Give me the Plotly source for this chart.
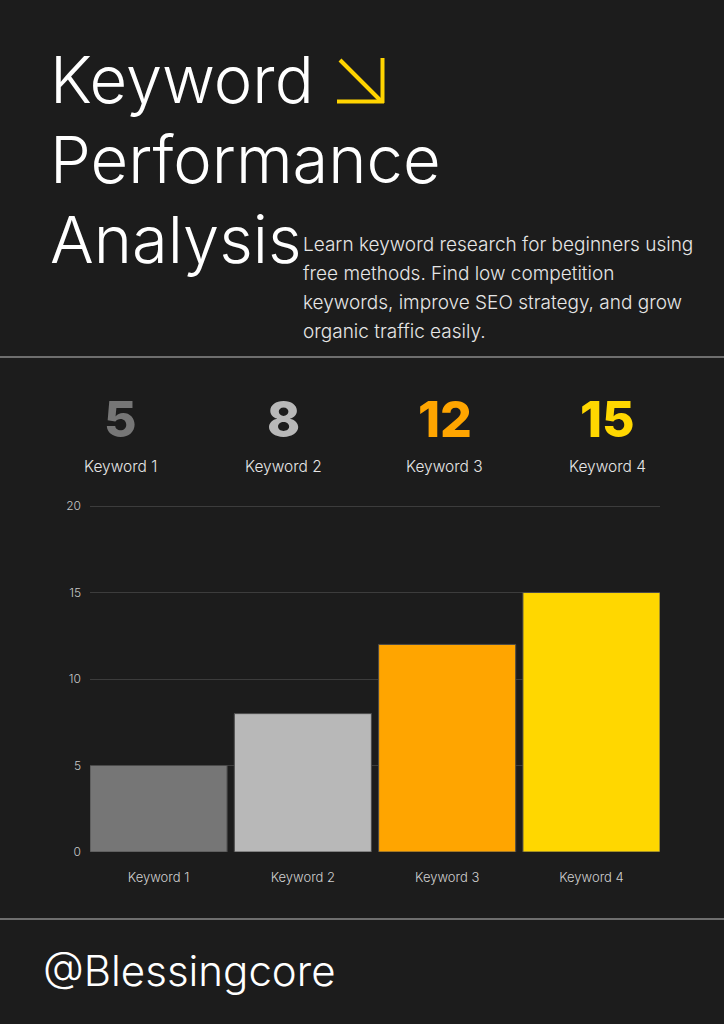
import plotly.graph_objects as go

# ---- data ----
categories = ["Keyword 1", "Keyword 2", "Keyword 3", "Keyword 4"]
values = [5, 8, 12, 15]
bar_colors = ["#767676", "#b8b8b8", "#ffa500", "#ffd700"]
y_ticks = [0, 5, 10, 15, 20]

title_lines = ["Keyword", "Performance", "Analysis"]
description = ["Learn keyword research for beginners using",
               "free methods. Find low competition",
               "keywords, improve SEO strategy, and grow",
               "organic traffic easily."]
handle = "@Blessingcore"

W, H = 724, 1024
BG = "#1c1c1c"
FONT = "Inter"


def px(x):
    return x / W


def py(y):
    return 1 - y / H


fig = go.Figure()
fig.add_trace(go.Bar(
    x=categories, y=values,
    marker=dict(color=bar_colors, line=dict(color="#4a4a4a", width=1)),
    hoverinfo="skip",
))

annotations = []
# Title
for i, line in enumerate(title_lines):
    annotations.append(dict(
        text=line, x=px(48), y=py(79 + i * 80), xref="paper", yref="paper",
        xanchor="left", yanchor="middle", showarrow=False,
        font=dict(family=FONT, size=65, color="#ffffff", weight=300)))
# Description
for i, line in enumerate(description):
    annotations.append(dict(
        text=line, x=px(301), y=py(244 + i * 29), xref="paper", yref="paper",
        xanchor="left", yanchor="middle", showarrow=False,
        font=dict(family=FONT, size=19, color="#e6e6e6", weight=300)))
# Big numbers and labels
for i, (cat, val, col) in enumerate(zip(categories, values, bar_colors)):
    cx = 121 + i * 162
    annotations.append(dict(
        text=str(val), x=px(cx), y=py(419), xref="paper", yref="paper",
        xanchor="center", yanchor="middle", showarrow=False,
        font=dict(family=FONT, size=50, color=col, weight=800)))
    annotations.append(dict(
        text=cat, x=px(cx), y=py(466), xref="paper", yref="paper",
        xanchor="center", yanchor="middle", showarrow=False,
        font=dict(family=FONT, size=15.5, color="#e6e6e6", weight=300)))
# Handle
annotations.append(dict(
    text=handle, x=px(41), y=py(970), xref="paper", yref="paper",
    xanchor="left", yanchor="middle", showarrow=False,
    font=dict(family=FONT, size=42, color="#ffffff", weight=300)))

shapes = [
    dict(type="line", xref="paper", yref="paper", x0=0, x1=1, y0=py(357), y1=py(357),
         line=dict(color="#8a8a8a", width=1.5)),
    dict(type="line", xref="paper", yref="paper", x0=0, x1=1, y0=py(919), y1=py(919),
         line=dict(color="#8a8a8a", width=1.5)),
    # arrow
    dict(type="line", xref="paper", yref="paper", x0=px(340), y0=py(60), x1=px(381), y1=py(101),
         line=dict(color="#ffd400", width=4)),
    dict(type="line", xref="paper", yref="paper", x0=px(337), y0=py(101.5), x1=px(384), y1=py(101.5),
         line=dict(color="#ffd400", width=4)),
    dict(type="line", xref="paper", yref="paper", x0=px(382.5), y0=py(58), x1=px(382.5), y1=py(103),
         line=dict(color="#ffd400", width=4)),
]

fig.update_layout(
    template="none",
    width=W, height=H,
    margin=dict(l=0, r=0, t=0, b=0, pad=0),
    paper_bgcolor=BG, plot_bgcolor=BG,
    showlegend=False,
    bargap=0.05,
    annotations=annotations,
    shapes=shapes,
    xaxis=dict(domain=[px(90), px(660)], range=[-0.475, 3.475], automargin=False,
               showgrid=False, zeroline=False, showline=False,
               ticks="", ticklabelstandoff=16,
               tickfont=dict(family=FONT, size=13, color="#d0d0d0", weight=300)),
    yaxis=dict(domain=[py(852), py(505)], range=[0, 20.06], tickvals=y_ticks, automargin=False,
               showgrid=True, gridcolor="#3c3c3c", gridwidth=1,
               zeroline=False, showline=False, ticks="", ticklabelstandoff=8,
               tickfont=dict(family=FONT, size=12, color="#c8c8c8", weight=300)),
)

fig.write_html("out.html", config={"responsive": False, "displayModeBar": False},
               post_script="document.body.style.margin='0';document.body.style.overflow='hidden';")
